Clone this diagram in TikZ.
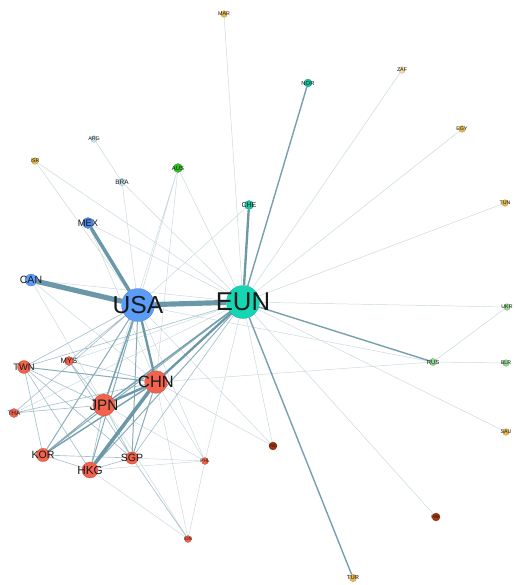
\documentclass[tikz,border=0pt]{standalone}
\usepackage{fontspec}
\setmainfont{Liberation Sans}
\usetikzlibrary{backgrounds}

\definecolor{usblue}{HTML}{5A9CF8}
\definecolor{mxblue}{HTML}{4A88E6}
\definecolor{euteal}{HTML}{14D6B2}
\definecolor{euteal2}{HTML}{16C4A2}
\definecolor{asred}{HTML}{F2624C}
\definecolor{amber}{HTML}{E8B84C}
\definecolor{sand}{HTML}{F2DBA6}
\definecolor{skyblue}{HTML}{BFE2EE}
\definecolor{ausgreen}{HTML}{2BC21F}
\definecolor{palegreen}{HTML}{93DB8E}
\definecolor{rust}{HTML}{A8340C}
\definecolor{edgec}{HTML}{6A98A8}

\begin{document}
\begin{tikzpicture}[x=0.03cm, y=-0.03cm,
    ctry/.style={circle, draw=#1!75!black, line width=0.2pt, fill=#1, inner sep=0pt},
    txt/.style={font=\fontsize{#1}{#1}\selectfont, text=black!90},
    w0/.style={draw=edgec!38, line width=0.4pt},
    w1/.style={draw=edgec!60, line width=0.55pt},
    w2/.style={draw=edgec!80, line width=0.85pt},
    w3/.style={draw=edgec!92, line width=1.2pt},
    w4/.style={draw=edgec, line width=2pt},
    w5/.style={draw=edgec, line width=3pt},
    w6/.style={draw=edgec, line width=4.4pt}
  ]
    \useasboundingbox (0,0) rectangle (515,585);

    % large traders
    \node[ctry=usblue, minimum size=0.99cm, label={[txt=21]center:USA}] (usa) at (138,305) {};
    \node[ctry=euteal, minimum size=0.99cm, label={[txt=22]center:EUN}] (eun) at (243,302) {};
    \node[ctry=usblue, minimum size=0.36cm, label={[txt=9]center:CAN}] (can) at (31,280) {};
    \node[ctry=mxblue, minimum size=0.33cm, label={[txt=8]center:MEX}] (mex) at (88,223) {};

    % east asia
    \node[ctry=asred, minimum size=0.68cm, label={[txt=14]center:CHN}] (chn) at (156,382) {};
    \node[ctry=asred, minimum size=0.66cm, label={[txt=13]center:JPN}] (jpn) at (104,405) {};
    \node[ctry=asred, minimum size=0.39cm, label={[txt=8]center:TWN}] (twn) at (24,367) {};
    \node[ctry=asred, minimum size=0.27cm, label={[txt=6.5]center:MYS}] (mys) at (69,361) {};
    \node[ctry=asred, minimum size=0.27cm, label={[txt=5.5]center:THA}] (tha) at (14,413) {};
    \node[ctry=asred, minimum size=0.4cm, label={[txt=9]center:KOR}] (kor) at (43,455) {};
    \node[ctry=asred, minimum size=0.48cm, label={[txt=10]center:HKG}] (hkg) at (90,470) {};
    \node[ctry=asred, minimum size=0.37cm, label={[txt=9]center:SGP}] (sgp) at (132,458) {};
    \node[ctry=asred, minimum size=0.21cm, label={[txt=4]center:PHL}] (phl) at (205,461) {};
    \node[ctry=asred, minimum size=0.21cm, label={[txt=4]center:IDN}] (idn) at (188,539) {};

    % others
    \node[ctry=euteal2, minimum size=0.27cm, label={[txt=6]center:CHE}] (che) at (249,205) {};
    \node[ctry=euteal2, minimum size=0.24cm, label={[txt=5]center:NOR}] (nor) at (308,83) {};
    \node[ctry=ausgreen, minimum size=0.27cm, label={[txt=5]center:AUS}] (aus) at (178,168) {};
    \node[ctry=skyblue, minimum size=0.22cm, label={[txt=5.5]center:BRA}] (bra) at (122,182) {};
    \node[ctry=skyblue, minimum size=0.2cm, label={[txt=4.5]center:ARG}] (arg) at (94,139) {};
    \node[ctry=amber, minimum size=0.2cm, label={[txt=4.5]center:ISR}] (isr) at (35,161) {};
    \node[ctry=amber, minimum size=0.2cm, label={[txt=4.5]center:MAR}] (mar) at (224,14) {};
    \node[ctry=sand, minimum size=0.2cm, label={[txt=4.5]center:ZAF}] (zaf) at (402,70) {};
    \node[ctry=amber, minimum size=0.2cm, label={[txt=4.5]center:EGY}] (egy) at (462,129) {};
    \node[ctry=amber, minimum size=0.2cm, label={[txt=4.5]center:TUN}] (tun) at (505,203) {};
    \node[ctry=palegreen, minimum size=0.2cm, label={[txt=4.5]center:UKR}] (ukr) at (507,307) {};
    \node[ctry=palegreen, minimum size=0.22cm, label={[txt=5]center:RUS}] (rus) at (433,362) {};
    \node[ctry=palegreen, minimum size=0.2cm, label={[txt=4.5]center:BLR}] (blr) at (506,363) {};
    \node[ctry=amber, minimum size=0.2cm, label={[txt=4.5]center:SAU}] (sau) at (506,432) {};
    \node[ctry=rust, minimum size=0.24cm, label={[txt=4]center:IND}] (ind) at (273,446) {};
    \node[ctry=rust, minimum size=0.24cm, label={[txt=4]center:PAK}] (pak) at (436,517) {};
    \node[ctry=amber, minimum size=0.22cm, label={[txt=5]center:TUR}] (tur) at (353,578) {};

    \begin{pgfonlayer}{background}
    \draw[w0] (eun) -- (zaf) (eun) -- (egy) (eun) -- (tun) (eun) -- (ukr) (eun) -- (sau)
      (eun) -- (mar) (eun) -- (isr) (eun) -- (ind) (eun) -- (pak) (eun) -- (bra)
      (eun) -- (aus) (eun) -- (mex) (eun) -- (can) (eun) -- (mys) (eun) -- (tha) (eun) -- (phl);
    \draw[w0] (usa) -- (isr) (usa) -- (bra) (usa) -- (aus) (usa) -- (che) (usa) -- (rus)
      (usa) -- (ind) (usa) -- (phl) (arg) -- (bra) (rus) -- (ukr) (rus) -- (blr) (rus) -- (chn)
      (can) -- (chn) (can) -- (jpn) (mex) -- (chn) (aus) -- (chn) (aus) -- (jpn)
      (chn) -- (idn) (jpn) -- (idn) (phl) -- (idn) (sgp) -- (phl) (hkg) -- (phl)
      (chn) -- (phl) (jpn) -- (phl) (hkg) -- (idn) (chn) -- (ind);
    \draw[w1] (usa) -- (twn) (usa) -- (mys) (usa) -- (tha) (eun) -- (twn) (eun) -- (sgp)
      (jpn) -- (twn) (jpn) -- (hkg) (jpn) -- (sgp) (chn) -- (mys) (jpn) -- (tha)
      (chn) -- (tha) (kor) -- (twn) (hkg) -- (twn) (sgp) -- (mys) (kor) -- (hkg)
      (hkg) -- (sgp) (sgp) -- (idn) (kor) -- (sgp) (twn) -- (sgp) (jpn) -- (mys);
    \draw[w2] (eun) -- (kor) (eun) -- (hkg) (usa) -- (kor) (usa) -- (hkg) (usa) -- (sgp)
      (jpn) -- (kor) (chn) -- (twn) (chn) -- (sgp);
    \draw[w3] (eun) -- (jpn) (usa) -- (jpn) (eun) -- (rus) (eun) -- (nor) (eun) -- (tur)
      (chn) -- (kor);
    \draw[w4] (usa) -- (chn) (eun) -- (chn) (chn) -- (jpn) (eun) -- (che);
    \draw[w5] (usa) -- (mex) (chn) -- (hkg);
    \draw[w6] (usa) -- (eun) (usa) -- (can);
    \end{pgfonlayer}
\end{tikzpicture}
\end{document}
